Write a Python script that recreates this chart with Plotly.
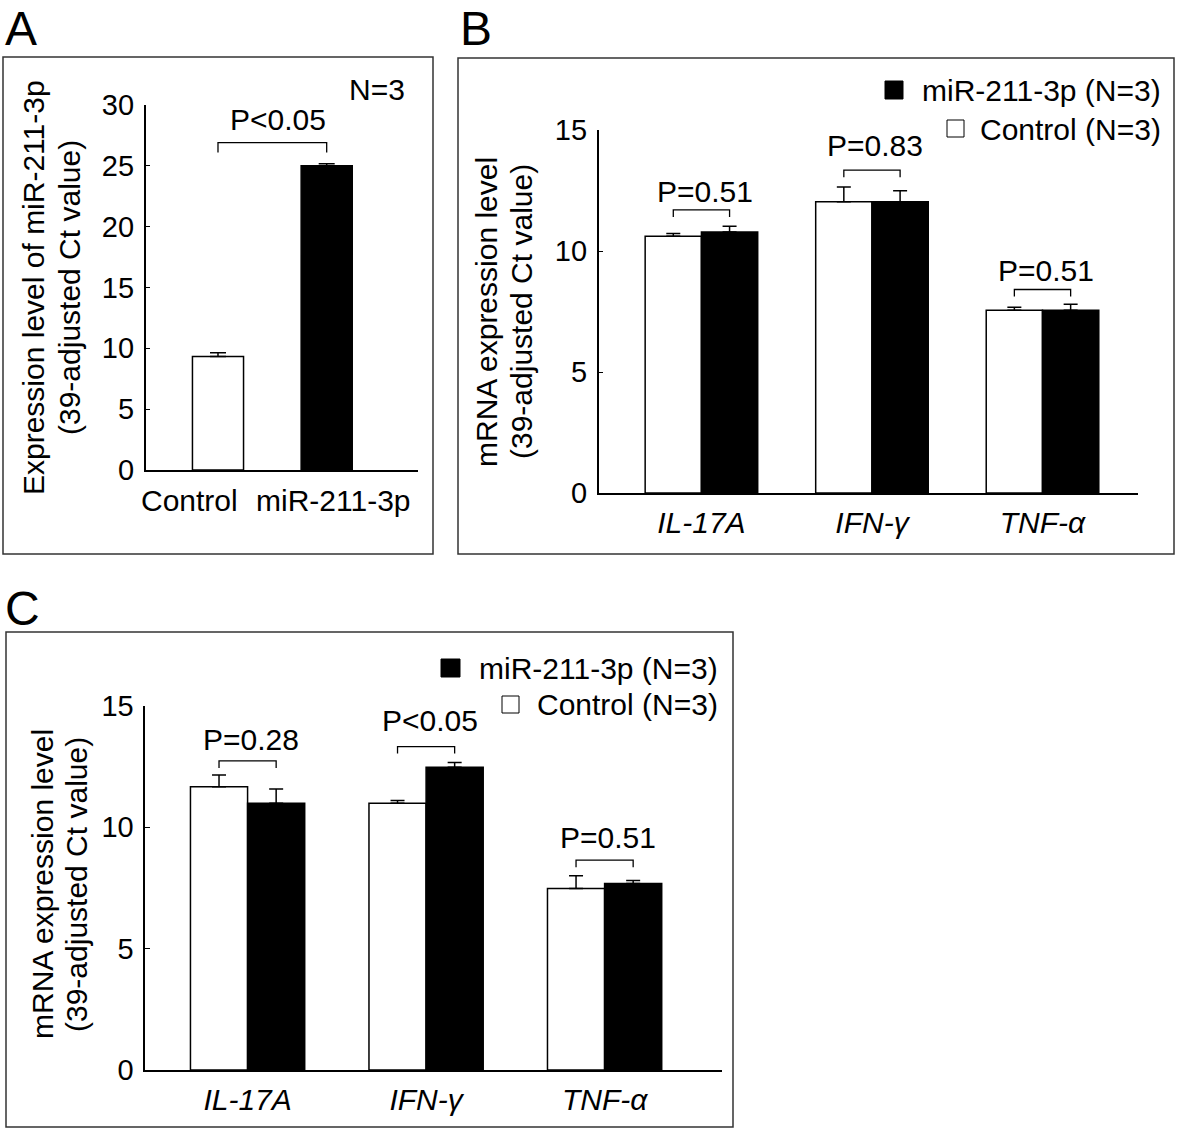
import plotly.graph_objects as go

W, H = 1181, 1132
FONT = "Liberation Sans, Arial, sans-serif"
FS = 30

# ---------------- data ----------------
a_groups = ["Control", "miR-211-3p"]
a_label_pos = [-0.26, 1.06]
a_means = [9.32, 25.01]
a_errs = [0.32, 0.17]
a_pval = "P<0.05"
a_bracket = 26.9
a_ptext_y = 28.8

genes = ["IL-17A", "IFN-γ", "TNF-α"]

b_ctrl = [10.61, 12.04, 7.55]
b_ctrl_err = [0.11, 0.60, 0.13]
b_mir = [10.78, 12.04, 7.55]
b_mir_err = [0.24, 0.45, 0.25]
b_pvals = ["P=0.51", "P=0.83", "P=0.51"]
b_bracket = [11.70, 13.34, 8.41]
b_ptext_y = [12.45, 14.35, 9.20]

c_ctrl = [11.67, 10.99, 7.48]
c_ctrl_err = [0.49, 0.12, 0.52]
c_mir = [10.99, 12.48, 7.69]
c_mir_err = [0.59, 0.19, 0.12]
c_pvals = ["P=0.28", "P<0.05", "P=0.51"]
c_bracket = [12.74, 13.33, 8.65]
c_ptext_y = [13.62, 14.41, 9.58]

legend_mir = "miR-211-3p (N=3)"
legend_ctrl = "Control (N=3)"


def px(x):
    return x / W


def py(y):
    return 1 - y / H


fig = go.Figure()

err_common = dict(type="data", symmetric=False, color="black", thickness=1.5)

# ---------------- Panel A ----------------
A_W = 0.47
fig.add_trace(go.Bar(
    x=list(range(len(a_groups))), y=a_means, width=A_W,
    marker=dict(color=["white", "black"], line=dict(color="black", width=1.5)),
    error_y=dict(array=a_errs, arrayminus=[0] * len(a_errs), width=8, **err_common),
    xaxis="x", yaxis="y", showlegend=False, hoverinfo="skip",
))

# ---------------- Panels B and C ----------------
BW = {"x2": 0.33, "x3": 0.32}
for xa, ya, ctrl, ce, mir, me in [("x2", "y2", b_ctrl, b_ctrl_err, b_mir, b_mir_err),
                                  ("x3", "y3", c_ctrl, c_ctrl_err, c_mir, c_mir_err)]:
    w = BW[xa]
    fig.add_trace(go.Bar(
        x=list(range(len(genes))), y=ctrl, width=w, offset=-w,
        marker=dict(color="white", line=dict(color="black", width=1.5)),
        error_y=dict(array=ce, arrayminus=[0] * len(ce), width=7, **err_common),
        xaxis=xa, yaxis=ya, showlegend=False, hoverinfo="skip", name="Control",
    ))
    fig.add_trace(go.Bar(
        x=list(range(len(genes))), y=mir, width=w, offset=0,
        marker=dict(color="black", line=dict(color="black", width=1.5)),
        error_y=dict(array=me, arrayminus=[0] * len(me), width=7, **err_common),
        xaxis=xa, yaxis=ya, showlegend=False, hoverinfo="skip", name="miR-211-3p",
    ))

shapes = []
annotations = []


def bracket(xa, ya, xl, xr, ytop, leg):
    shapes.append(dict(type="path", xref=xa, yref=ya,
                       path=f"M {xl},{ytop - leg} L {xl},{ytop} L {xr},{ytop} L {xr},{ytop - leg}",
                       line=dict(color="black", width=1.3)))


# A bracket, p-value, x labels
bracket("x", "y", 0, 1, a_bracket, 0.8)
annotations.append(dict(x=0.55, y=a_ptext_y, xref="x", yref="y", text=a_pval, showarrow=False,
                        font=dict(size=FS), xanchor="center", yanchor="middle"))
for lab, xp in zip(a_groups, a_label_pos):
    annotations.append(dict(x=xp, y=py(500), xref="x", yref="paper", text=lab, showarrow=False,
                            font=dict(size=FS), xanchor="center", yanchor="middle"))

for xa, ya, brs, pv, pty in [("x2", "y2", b_bracket, b_pvals, b_ptext_y),
                              ("x3", "y3", c_bracket, c_pvals, c_ptext_y)]:
    w = BW[xa]
    for i in range(len(genes)):
        bracket(xa, ya, i - w / 2, i + w / 2, brs[i], 0.29)
        annotations.append(dict(x=i + 0.02, y=pty[i], xref=xa, yref=ya, text=pv[i], showarrow=False,
                                font=dict(size=FS), xanchor="center", yanchor="middle"))

# panel boxes
for (x0, y0, x1, y1) in [(3, 57, 433, 554), (458, 58, 1174, 554), (6, 632, 733, 1127)]:
    shapes.append(dict(type="rect", xref="paper", yref="paper",
                       x0=px(x0), x1=px(x1), y0=py(y1), y1=py(y0),
                       line=dict(color="#333333", width=1.5), fillcolor="rgba(0,0,0,0)"))

# panel letters
for lab, x, y in [("A", 3, 0), ("B", 458, 0), ("C", 3, 580)]:
    annotations.append(dict(x=px(x), y=py(y), xref="paper", yref="paper", text=lab, showarrow=False,
                            font=dict(size=48), xanchor="left", yanchor="top"))

# N=3 in A
annotations.append(dict(x=px(377), y=py(89), xref="paper", yref="paper", text="N=3", showarrow=False,
                        font=dict(size=FS), xanchor="center", yanchor="middle"))

# y-axis titles (two lines each)
for t1, t2, x1, x2, yc in [("Expression level of miR-211-3p", "(39-adjusted Ct value)", 33, 69, 288),
                           ("mRNA expression level", "(39-adjusted Ct value)", 487, 522, 312),
                           ("mRNA expression level", "(39-adjusted Ct value)", 42, 76, 884)]:
    for t, x in [(t1, x1), (t2, x2)]:
        annotations.append(dict(x=px(x), y=py(yc), xref="paper", yref="paper", text=t, showarrow=False,
                                textangle=-90, font=dict(size=FS), xanchor="center", yanchor="middle"))

# legends for B and C
for (sq1, sq2, ty1, ty2, tx) in [((885, 81, 903, 99), (947, 120, 964, 137), 90, 129, 1163),
                                 ((441, 659, 460, 677), (502, 696, 519, 713), 668, 704, 720)]:
    shapes.append(dict(type="rect", xref="paper", yref="paper", x0=px(sq1[0]), x1=px(sq1[2]),
                       y0=py(sq1[3]), y1=py(sq1[1]), fillcolor="black", line=dict(color="black", width=1)))
    shapes.append(dict(type="rect", xref="paper", yref="paper", x0=px(sq2[0]), x1=px(sq2[2]),
                       y0=py(sq2[3]), y1=py(sq2[1]), fillcolor="white", line=dict(color="black", width=1)))
    annotations.append(dict(x=px(tx), y=py(ty1), xref="paper", yref="paper", text=legend_mir,
                            showarrow=False, font=dict(size=FS), xanchor="right", yanchor="middle"))
    annotations.append(dict(x=px(tx), y=py(ty2), xref="paper", yref="paper", text=legend_ctrl,
                            showarrow=False, font=dict(size=FS), xanchor="right", yanchor="middle"))

ax_common = dict(showgrid=False, zeroline=False, showline=True, linecolor="black", linewidth=1.5,
                 automargin=False)
y_common = dict(ax_common, ticks="inside", ticklen=5, tickwidth=1.3, tickcolor="black",
                tickfont=dict(size=FS - 1), ticklabelstandoff=4)
x_common = dict(ax_common, ticks="", tickfont=dict(size=FS), ticklabelstandoff=2, tickangle=0)

fig.update_layout(
    width=W, height=H, margin=dict(l=0, r=0, t=0, b=0, pad=0, autoexpand=False),
    paper_bgcolor="white", plot_bgcolor="rgba(0,0,0,0)",
    font=dict(family=FONT, color="black"),
    barmode="overlay", showlegend=False,
    xaxis=dict(x_common, domain=[px(145.6), px(418)], range=[-0.666, 1.84],
               tickvals=list(range(len(a_groups))), showticklabels=False, anchor="y"),
    yaxis=dict(y_common, domain=[py(470), py(105)], range=[0, 30],
               tickvals=[0, 5, 10, 15, 20, 25, 30], anchor="x"),
    xaxis2=dict(x_common, domain=[px(598.6), px(1138)], range=[-0.603, 2.56],
                tickvals=list(range(len(genes))), ticktext=[f"<i>{g}</i>" for g in genes], anchor="y2"),
    yaxis2=dict(y_common, domain=[py(493), py(130)], range=[0, 15],
                tickvals=[0, 5, 10, 15], anchor="x2"),
    xaxis3=dict(x_common, domain=[px(145.3), px(721.7)], range=[-0.573, 2.656],
                tickvals=list(range(len(genes))), ticktext=[f"<i>{g}</i>" for g in genes], anchor="y3"),
    yaxis3=dict(y_common, domain=[py(1070), py(706)], range=[0, 15],
                tickvals=[0, 5, 10, 15], anchor="x3"),
    shapes=shapes, annotations=annotations,
)

POST = (
    "var s=document.createElement('style');"
    "s.innerHTML='html,body{margin:0!important;padding:0!important;overflow:hidden!important;}';"
    "document.head.appendChild(s);"
)

fig.write_html("out.html", config={"displayModeBar": False}, post_script=POST)
